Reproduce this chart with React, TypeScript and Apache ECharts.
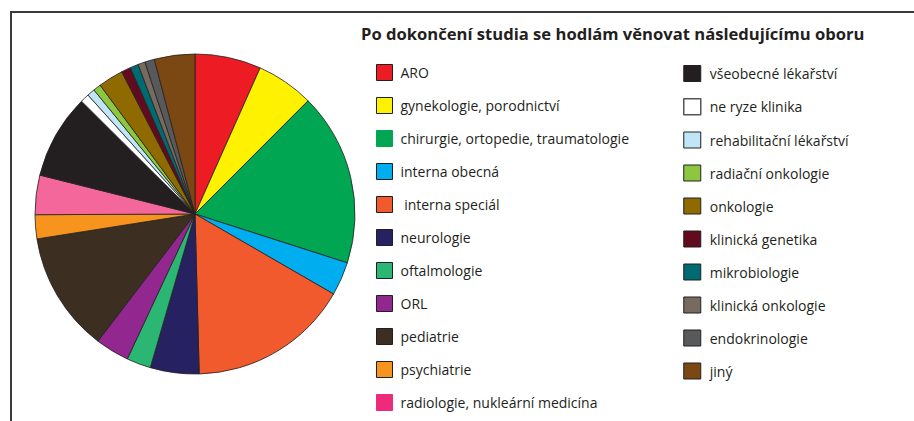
import React, { useEffect, useRef } from "react";
import * as echarts from "echarts";

const titleText = "Po dokončení studia se hodlám věnovat následujícímu oboru";

const categories = [
  "ARO",
  "gynekologie, porodnictví",
  "chirurgie, ortopedie, traumatologie",
  "interna obecná",
  " interna speciál",
  "neurologie",
  "oftalmologie",
  "ORL",
  "pediatrie",
  "psychiatrie",
  "radiologie, nukleární medicína",
  "všeobecné lékařství",
  "ne ryze klinika",
  "rehabilitační lékařství",
  "radiační onkologie",
  "onkologie",
  "klinická genetika",
  "mikrobiologie",
  "klinická onkologie",
  "endokrinologie",
  "jiný",
];

// slice sizes (share of the circle, in degrees)
const values = [
  24.0, 20.9, 62.7, 12.2, 58.4, 17.7, 8.8, 12.3, 43.6, 8.7, 14.3, 30.7, 3.2,
  2.8, 2.8, 9.1, 3.4, 3.0, 2.6, 3.5, 14.7,
];

const sliceColors = [
  "#ed1c24", "#fff200", "#00a651", "#00aeef", "#f15a2c", "#262262", "#2bb673",
  "#92278f", "#3c2e21", "#f7941d", "#f4679a", "#231f20", "#ffffff", "#bfe6f7",
  "#8dc63f", "#8f6a00", "#620b1f", "#006a73", "#776a5e", "#58595b", "#7b4712",
];

const legendColors = [
  "#ed1c24", "#fff200", "#00a651", "#00aeef", "#f15a2c", "#262262", "#2bb673",
  "#92278f", "#3c2e21", "#f7941d", "#ee2a7b", "#231f20", "#ffffff", "#bfe6f7",
  "#8dc63f", "#8f6a00", "#620b1f", "#006a73", "#776a5e", "#58595b", "#7b4712",
];

const firstColumnCount = 11;

export default function App() {
  const ref = useRef<HTMLDivElement>(null);

  useEffect(() => {
    document.body.style.margin = "0";
    if (!ref.current) return;
    const chart = echarts.init(ref.current, undefined, { renderer: "svg" });

    const legendItem = (i: number) => {
      const c = legendColors[i];
      const noBorder = i === 2 || i === 10;
      return {
        name: categories[i],
        itemStyle: {
          color: c,
          borderColor: noBorder ? c : i === 12 ? "#555555" : "#231f20",
          borderWidth: i === 12 ? 1.5 : 1,
        },
      };
    };

    const legendBase = {
      orient: "vertical" as const,
      icon: "rect",
      itemWidth: 16,
      itemHeight: 16,
      itemGap: 16,
      padding: 0,
      height: 380,
      selectedMode: false,
      textStyle: {
        fontFamily: "Open Sans",
        fontSize: 14,
        color: "#231f20",
        lineHeight: 16,
        padding: [0, 0, 0, 3],
      },
    };

    chart.setOption({
      animation: false,
      backgroundColor: "#ffffff",
      title: {
        text: titleText,
        left: 361,
        top: 25,
        padding: 0,
        textStyle: {
          fontFamily: "Open Sans",
          fontWeight: "bold",
          fontSize: 16.6,
          color: "#231f20",
        },
      },
      legend: [
        {
          ...legendBase,
          left: 376,
          top: 64,
          data: categories.slice(0, firstColumnCount).map((_, i) => legendItem(i)),
        },
        {
          ...legendBase,
          left: 683,
          top: 65,
          itemWidth: 17,
          textStyle: { ...legendBase.textStyle, padding: [0, 0, 0, 4] },
          data: categories
            .slice(firstColumnCount)
            .map((_, i) => legendItem(i + firstColumnCount)),
        },
      ],
      graphic: [
        {
          type: "polyline",
          shape: {
            points: [
              [11, 421],
              [11, 12],
              [914, 12],
            ],
          },
          style: { stroke: "#3a3a3a", lineWidth: 2, fill: "none" },
          silent: true,
        },
      ],
      series: [
        {
          type: "pie",
          center: [195, 214],
          radius: 160,
          startAngle: 90,
          clockwise: true,
          avoidLabelOverlap: false,
          label: { show: false },
          labelLine: { show: false },
          emphasis: { disabled: true },
          itemStyle: { borderColor: "#231f20", borderWidth: 0.8 },
          data: categories.map((name, i) => ({
            name,
            value: values[i],
            itemStyle: { color: sliceColors[i] },
          })),
        },
      ],
    });

    return () => chart.dispose();
  }, []);

  return <div ref={ref} style={{ width: 914, height: 421 }} />;
}
